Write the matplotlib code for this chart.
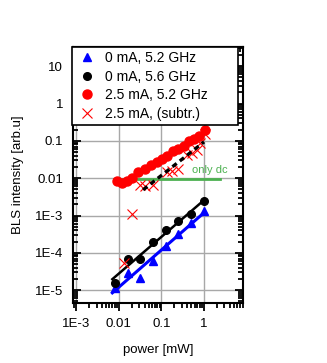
import numpy as np
import matplotlib
matplotlib.use("Agg")
import matplotlib.pyplot as plt
from matplotlib.ticker import LogLocator, FixedLocator, FixedFormatter, NullFormatter

plt.rcParams['font.family'] = ['Liberation Sans', 'DejaVu Sans']

# measured data
power = [0.008, 0.016, 0.032, 0.064, 0.125, 0.25, 0.5, 1.0]
bls_0ma_52 = [1.15e-5, 2.9e-5, 2.1e-5, 6.1e-5, 1.55e-4, 3.2e-4, 6.4e-4, 1.3e-3]
bls_0ma_56 = [1.6e-5, 6.8e-5, 6.8e-5, 1.9e-4, 4.2e-4, 7.3e-4, 1.1e-3, 2.4e-3]

power_25 = [0.0092, 0.012, 0.0157, 0.0206, 0.0285, 0.0415, 0.057, 0.079, 0.104,
            0.136, 0.188, 0.246, 0.34, 0.446, 0.58, 0.76, 1.05]
bls_25ma = [0.0083, 0.0073, 0.0083, 0.010, 0.0146, 0.0177, 0.0227, 0.0274, 0.033,
            0.040, 0.055, 0.062, 0.075, 0.097, 0.11, 0.133, 0.194]

power_sub = [0.0129, 0.0203, 0.0317, 0.0417, 0.064, 0.134, 0.175, 0.25, 0.39,
             0.515, 0.67, 0.81, 1.05]
bls_sub = [5.5e-5, 1.12e-3, 0.0064, 0.006, 0.0064, 0.0149, 0.0155, 0.0173, 0.043,
           0.047, 0.058, 0.09, 0.15]

dc_level = 0.0097
dc_range = [0.0075, 2.4]

fit_range = [0.007, 1.0]
sub_fit_range = [0.037, 1.0]

yticks = [1e-5, 1e-4, 1e-3, 1e-2, 1e-1, 1, 10]
ylabels = ['1E-5', '1E-4', '1E-3', '0.01', '0.1', '1', '10']
xticks = [1e-3, 1e-2, 1e-1, 1]
xlabels = ['1E-3', '0.01', '0.1', '1']


def powerfit(x, y, xr, mask=None):
    x = np.asarray(x); y = np.asarray(y)
    if mask is not None:
        x, y = x[mask], y[mask]
    k, b = np.polyfit(np.log10(x), np.log10(y), 1)
    xx = np.array(xr)
    return xx, 10 ** (k * np.log10(xx) + b)


fig = plt.figure(figsize=(3.27, 3.63), dpi=100)
ax = fig.add_axes([0.223, 0.165, 0.520, 0.706])
ax.set_xscale('log')
ax.set_yscale('log')
ax.set_xlim(8.3e-4, 8.2)
ax.set_ylim(4.5e-6, 33)

ax.grid(True, which='major', color='#a8a8a8', lw=1.0)
ax.set_axisbelow(True)

# fit lines
fx, fy = powerfit(power, bls_0ma_56, fit_range)
ax.plot(fx, fy, color='black', lw=1.8, zorder=3)
fx, fy = powerfit(power, bls_0ma_52, fit_range)
ax.plot(fx, fy, color='blue', lw=2.2, zorder=3)
m = np.asarray(power_sub) > 0.025
fx, fy = powerfit(power_sub, bls_sub, sub_fit_range, m)
ax.plot(fx, fy, color='black', lw=2.4, ls=(0, (1.6, 1.2)), zorder=5)

ax.plot(dc_range, [dc_level, dc_level], color='#4cb050', lw=2, zorder=3)
ax.text(np.sqrt(dc_range[1] * 0.75), dc_level * 1.25, 'only dc', color='#4cb050',
        fontsize=8, ha='center', va='bottom')

ax.plot(power, bls_0ma_52, '^', color='blue', ms=6, ls='none', zorder=4, label='0 mA, 5.2 GHz')
ax.plot(power, bls_0ma_56, 'o', color='black', ms=5.5, ls='none', zorder=4, label='0 mA, 5.6 GHz')
ax.plot(power_25, bls_25ma, 'o', color='red', ms=6.5, ls='none', zorder=4, label='2.5 mA, 5.2 GHz')
ax.plot(power_sub, bls_sub, 'x', color='red', ms=6.5, mew=0.8, ls='none', zorder=4,
        label='2.5 mA, (subtr.)')

leg = ax.legend(loc='upper left', bbox_to_anchor=(-0.005, 0.5, 0.975, 0.5), mode='expand',
                fontsize=10, frameon=True, fancybox=False, edgecolor='black', framealpha=1,
                handletextpad=0.5, borderpad=0.3, labelspacing=0.33, handlelength=1.6,
                borderaxespad=0.0)
leg.get_frame().set_linewidth(1.2)

ax.yaxis.set_major_locator(FixedLocator(yticks))
ax.yaxis.set_major_formatter(FixedFormatter(ylabels))
ax.yaxis.set_minor_locator(LogLocator(base=10, subs=np.arange(2, 10), numticks=20))
ax.yaxis.set_minor_formatter(NullFormatter())
ax.xaxis.set_major_locator(FixedLocator(xticks))
ax.xaxis.set_major_formatter(FixedFormatter(xlabels))
ax.xaxis.set_minor_locator(LogLocator(base=10, subs=np.arange(2, 10), numticks=20))
ax.xaxis.set_minor_formatter(NullFormatter())

ax.tick_params(axis='y', which='both', direction='in', left=True, right=True,
               labelsize=9.5, width=1.3, pad=7)
ax.tick_params(axis='y', which='major', length=6)
ax.tick_params(axis='y', which='minor', length=3.5)
ax.tick_params(axis='x', which='both', direction='out', bottom=True, top=False,
               labelsize=9.5, width=1.3, pad=5)
ax.tick_params(axis='x', which='major', length=6)
ax.tick_params(axis='x', which='minor', length=3.5)

top = ax.secondary_xaxis('top')
top.xaxis.set_major_locator(FixedLocator(xticks))
top.xaxis.set_minor_locator(LogLocator(base=10, subs=np.arange(2, 10), numticks=20))
top.xaxis.set_major_formatter(NullFormatter())
top.xaxis.set_minor_formatter(NullFormatter())
top.tick_params(which='both', direction='in', width=1.3)
top.tick_params(which='major', length=6)
top.tick_params(which='minor', length=3.5)
top.spines['top'].set_linewidth(1.5)

for s in ax.spines.values():
    s.set_linewidth(1.5)

ax.set_xlabel('power [mW]', fontsize=9.5, labelpad=10)
ax.set_ylabel('BLS intensity [arb.u]', fontsize=9.5, labelpad=8)

fig.savefig('out.png', dpi=100)
